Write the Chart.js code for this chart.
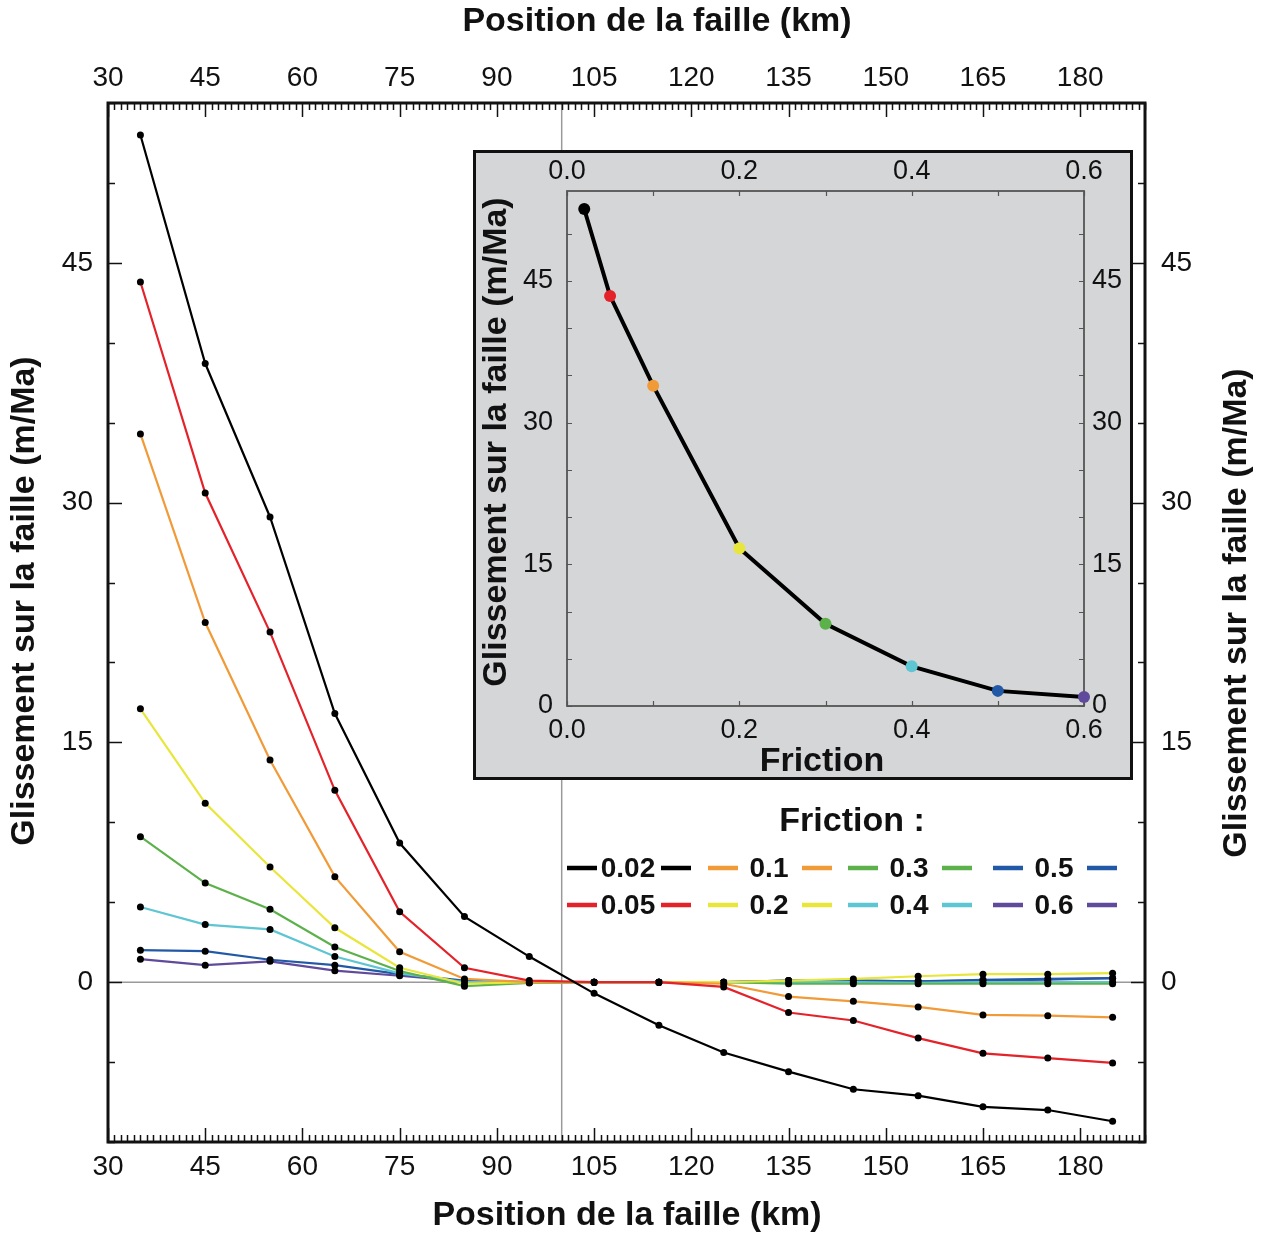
<!DOCTYPE html>
<html>
<head>
<meta charset="utf-8">
<script src="https://cdn.jsdelivr.net/npm/chart.js@4.4.1/dist/chart.umd.min.js"></script>
<style>
  html, body { margin: 0; padding: 0; background: #fff; }
  #wrap { position: relative; width: 1263px; height: 1238px; }
  #main { position: absolute; left: 0; top: 0; }
  #inset { position: absolute; left: 473px; top: 150px; background: #d5d6d8; }
</style>
</head>
<body>
<div id="wrap">
  <canvas id="main" width="1263" height="1238"></canvas>
  <canvas id="inset" width="660" height="630"></canvas>
</div>
<script>
// fault position (km)
const positions = [35, 45, 55, 65, 75, 85, 95, 105, 115, 125, 135, 145, 155, 165, 175, 185];
const frictionLabels = ['0.02', '0.05', '0.1', '0.2', '0.3', '0.4', '0.5', '0.6'];

// slip on the fault (m/Ma) for each friction value
const slip002 = [53.0, 38.7, 29.1, 16.8, 8.7, 4.1, 1.6, -0.7, -2.7, -4.4, -5.6, -6.7, -7.1, -7.8, -8.0, -8.7];
const slip005 = [43.8, 30.6, 21.9, 12.0, 4.4, 0.9, 0.1, 0.0, 0.0, -0.3, -1.9, -2.4, -3.5, -4.45, -4.75, -5.05];
const slip01  = [34.3, 22.5, 13.9, 6.6, 1.9, 0.2, 0.0, 0.0, 0.0, -0.1, -0.9, -1.2, -1.55, -2.05, -2.1, -2.2];
const slip02  = [17.1, 11.2, 7.2, 3.4, 0.9, -0.1, 0.0, 0.0, 0.0, 0.0, 0.1, 0.2, 0.37, 0.5, 0.5, 0.56];
const slip03  = [9.1, 6.2, 4.56, 2.2, 0.7, -0.25, -0.05, 0.0, 0.0, 0.0, -0.1, -0.1, -0.1, -0.1, -0.1, -0.1];
const slip04  = [4.7, 3.6, 3.3, 1.6, 0.55, 0.0, 0.0, 0.0, 0.0, 0.0, 0.0, 0.0, -0.05, 0.0, 0.0, 0.0];
const slip05  = [2.0, 1.94, 1.4, 1.06, 0.5, 0.1, 0.0, 0.0, 0.0, 0.0, 0.1, 0.1, 0.05, 0.15, 0.2, 0.25];
const slip06  = [1.44, 1.06, 1.3, 0.72, 0.4, 0.05, 0.0, 0.0, 0.0, 0.0, 0.1, 0.1, 0.05, 0.1, 0.15, 0.25];
const slipSeries = [slip002, slip005, slip01, slip02, slip03, slip04, slip05, slip06];
const seriesColors = ['#000000', '#e4222a', '#f19a38', '#e8e63a', '#5cb14a', '#5ec5d2', '#2259a6', '#5f4a9b'];

const xTickLabels = [30, 45, 60, 75, 90, 105, 120, 135, 150, 165, 180];
const yTickLabels = [0, 15, 30, 45];

// inset: slip at 35 km against friction
const insetFriction = [0.02, 0.05, 0.1, 0.2, 0.3, 0.4, 0.5, 0.6];
const insetSlip = [52.6, 43.4, 33.9, 16.7, 8.7, 4.2, 1.6, 0.95];
const insetXTicks = [0, 0.2, 0.4, 0.6];
const insetYTicks = [0, 15, 30, 45];

const SANS = '"Liberation Sans", Arial, Helvetica, sans-serif';
const X_TITLE = 'Position de la faille (km)';
const Y_TITLE = 'Glissement sur la faille (m/Ma)';

function axis(position, min, max, tickVals, size, pad, fontSize, fmt) {
  return {
    type: 'linear', position, min, max,
    grid: { display: false, drawTicks: false },
    border: { display: false },
    afterBuildTicks: s => { s.ticks = tickVals.map(v => ({ value: v })); },
    ticks: {
      padding: pad, color: '#111', autoSkip: false, maxRotation: 0,
      font: { family: SANS, size: fontSize },
      callback: fmt
    },
    afterFit: s => { if (s.isHorizontal()) s.height = size; else s.width = size; }
  };
}

function text(ctx, str, x, y, font, rot) {
  ctx.save();
  ctx.translate(x, y);
  if (rot) ctx.rotate(rot);
  ctx.font = font;
  ctx.fillStyle = '#111';
  ctx.textAlign = 'center';
  ctx.textBaseline = 'middle';
  ctx.fillText(str, 0, 0);
  ctx.restore();
}

function inwardTicks(ctx, a, xs, ys, from, to, step, isMajor, len, lenMajor) {
  ctx.beginPath();
  for (let v = from; v <= to + 1e-9; v += step) {
    const L = isMajor(v) ? lenMajor : len;
    if (xs) {
      const p = Math.round(xs.getPixelForValue(v)) + 0.5;
      ctx.moveTo(p, a.top); ctx.lineTo(p, a.top + L);
      ctx.moveTo(p, a.bottom); ctx.lineTo(p, a.bottom - L);
    } else {
      const p = Math.round(ys.getPixelForValue(v)) + 0.5;
      ctx.moveTo(a.left, p); ctx.lineTo(a.left + L, p);
      ctx.moveTo(a.right, p); ctx.lineTo(a.right - L, p);
    }
  }
  ctx.stroke();
}

const mainDecor = {
  id: 'mainDecor',
  beforeDatasetsDraw(chart) {
    const { ctx, chartArea: a, scales: { x, y } } = chart;
    ctx.save();
    ctx.strokeStyle = '#9a9a9a';
    ctx.lineWidth = 1.5;
    const px = x.getPixelForValue(100), py = y.getPixelForValue(0);
    ctx.beginPath();
    ctx.moveTo(px, a.top); ctx.lineTo(px, a.bottom);
    ctx.moveTo(a.left, py); ctx.lineTo(a.right, py);
    ctx.stroke();
    ctx.restore();
  },
  afterDraw(chart) {
    const { ctx, chartArea: a, scales: { x, y } } = chart;
    ctx.save();
    ctx.strokeStyle = '#111';
    ctx.lineWidth = 1.5;
    inwardTicks(ctx, a, x, null, 30, 190, 1, v => Math.round(v) % 15 === 0, 7, 14);
    inwardTicks(ctx, a, null, y, -10, 55, 5, v => Math.round(v) % 15 === 0, 7, 14);
    ctx.lineWidth = 3;
    ctx.strokeRect(a.left, a.top, a.right - a.left, a.bottom - a.top);

    const bold = 'bold 34px ' + SANS;
    text(ctx, X_TITLE, 657, 22, bold);
    text(ctx, X_TITLE, 627, 1216, bold);
    text(ctx, Y_TITLE, 25, 601, bold, -Math.PI / 2);
    text(ctx, Y_TITLE, 1237, 613, bold, -Math.PI / 2);

    // legend
    text(ctx, 'Friction :', 852, 822, 'bold 34px ' + SANS);
    const cols = [628, 769, 909, 1054], rows = [868, 905];
    chart.data.datasets.forEach((ds, i) => {
      const cx = cols[Math.floor(i / 2)], cy = rows[i % 2];
      ctx.strokeStyle = ds.borderColor;
      ctx.lineWidth = 4.5;
      ctx.beginPath();
      ctx.moveTo(cx - 61, cy); ctx.lineTo(cx - 31, cy);
      ctx.moveTo(cx + 33, cy); ctx.lineTo(cx + 63, cy);
      ctx.stroke();
      text(ctx, ds.label, cx, cy + 1, 'bold 28px ' + SANS);
    });
    ctx.restore();
  }
};

new Chart(document.getElementById('main'), {
  type: 'line',
  data: {
    datasets: slipSeries.map((s, i) => ({
      label: frictionLabels[i],
      data: positions.map((p, j) => ({ x: p, y: s[j] })),
      borderColor: seriesColors[i],
      borderWidth: 2.2,
      pointRadius: 3.5,
      pointBackgroundColor: '#000',
      pointBorderWidth: 0,
      tension: 0,
      clip: false
    }))
  },
  options: {
    responsive: false,
    animation: false,
    layout: { padding: 0 },
    plugins: { legend: { display: false }, tooltip: { enabled: false } },
    scales: {
      x: axis('bottom', 30, 190, xTickLabels, 96, 8, 28, v => String(v)),
      x2: axis('top', 30, 190, xTickLabels, 103, 8, 28, v => String(v)),
      y: axis('left', -10, 55, yTickLabels, 108, 15, 28, v => String(v)),
      y2: axis('right', -10, 55, yTickLabels, 118, 16, 28, v => String(v))
    }
  },
  plugins: [mainDecor]
});

const insetDecor = {
  id: 'insetDecor',
  beforeDatasetsDraw(chart) {
    const { ctx, chartArea: a, scales: { x, y } } = chart;
    ctx.save();
    ctx.strokeStyle = '#555';
    ctx.lineWidth = 1.2;
    inwardTicks(ctx, a, x, null, 0, 0.6, 0.1, () => false, 5, 5);
    inwardTicks(ctx, a, null, y, 0, 50, 5, () => false, 5, 5);
    ctx.lineWidth = 1.8;
    ctx.strokeRect(a.left, a.top, a.right - a.left, a.bottom - a.top);
    ctx.restore();
  },
  afterDraw(chart) {
    const { ctx, width, height } = chart;
    ctx.save();
    ctx.strokeStyle = '#111';
    ctx.lineWidth = 3;
    ctx.strokeRect(1.5, 1.5, width - 3, height - 3);
    text(ctx, 'Friction', 349, 612, 'bold 34px ' + SANS);
    text(ctx, Y_TITLE, 24, 292, 'bold 34px ' + SANS, -Math.PI / 2);
    ctx.restore();
  }
};

new Chart(document.getElementById('inset'), {
  type: 'line',
  data: {
    datasets: [{
      label: 'Glissement',
      data: insetFriction.map((f, i) => ({ x: f, y: insetSlip[i] })),
      borderColor: '#000',
      borderWidth: 4,
      pointRadius: 6,
      pointBackgroundColor: seriesColors,
      pointBorderWidth: 0,
      tension: 0,
      clip: false
    }]
  },
  options: {
    responsive: false,
    animation: false,
    layout: { padding: 0 },
    plugins: { legend: { display: false }, tooltip: { enabled: false } },
    scales: {
      x: axis('bottom', 0, 0.6, insetXTicks, 74, 8, 27, v => v.toFixed(1)),
      x2: axis('top', 0, 0.6, insetXTicks, 41, 3, 27, v => v.toFixed(1)),
      y: axis('left', 0, 54.5, insetYTicks, 94, 14, 27, v => String(v)),
      y2: axis('right', 0, 54.5, insetYTicks, 49, 8, 27, v => String(v))
    }
  },
  plugins: [insetDecor]
});
</script>
</body>
</html>
